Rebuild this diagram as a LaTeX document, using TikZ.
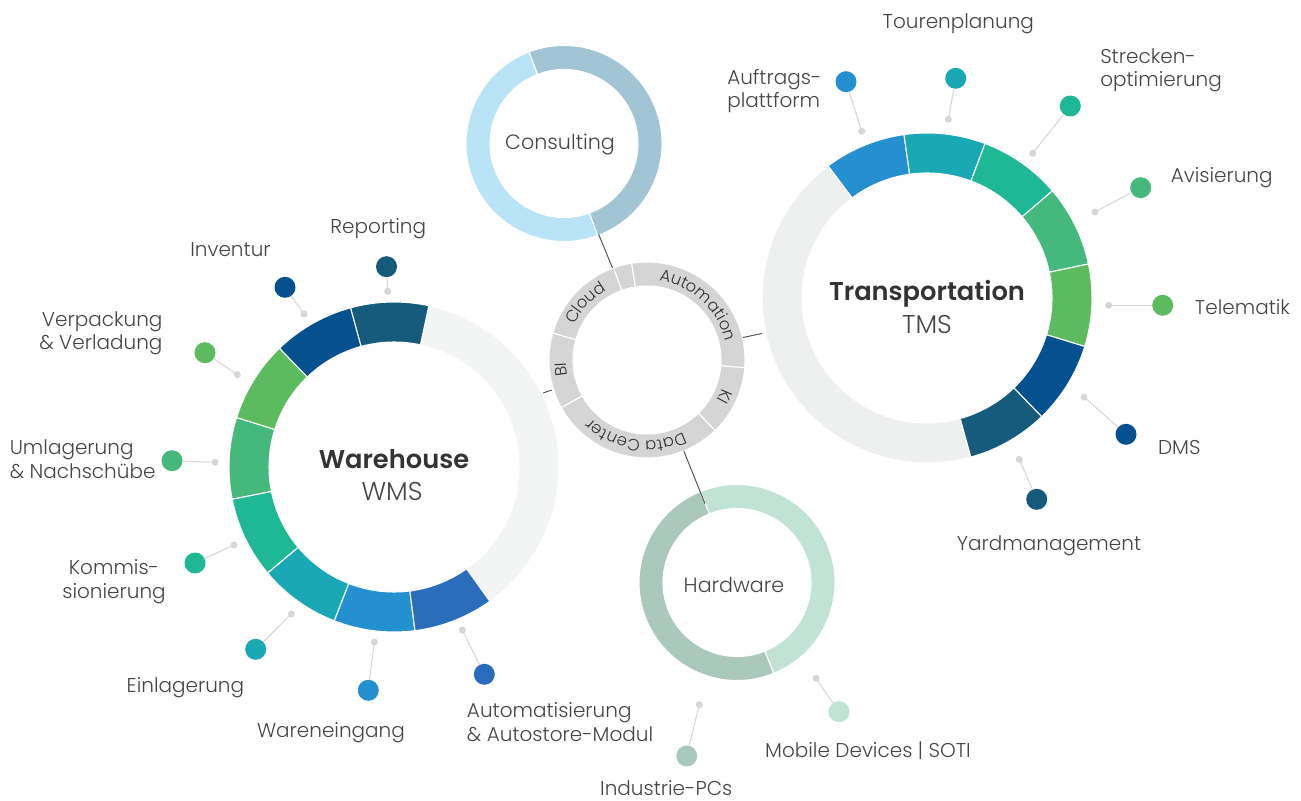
\documentclass[tikz,border=0pt]{standalone}
\usepackage{fontspec}
\setmainfont{Poppins Light}[BoldFont={Poppins SemiBold}]
\usetikzlibrary{decorations.text}
\definecolor{txt}{HTML}{464646}
\definecolor{txtdark}{HTML}{333333}
\definecolor{cBlue}{HTML}{2490CF}
\definecolor{cTeal}{HTML}{1AA9B4}
\definecolor{cSea}{HTML}{1FB894}
\definecolor{cMint}{HTML}{45B97C}
\definecolor{cGreen}{HTML}{5DBB5F}
\definecolor{cNavy}{HTML}{05508F}
\definecolor{cYard}{HTML}{165A7C}
\definecolor{cAuto}{HTML}{2A6EBB}
\definecolor{wmsgrey}{HTML}{F3F4F4}
\definecolor{tmsgrey}{HTML}{EEF0EF}
\definecolor{midgrey}{HTML}{D5D5D5}
\definecolor{consDark}{HTML}{A2C5D5}
\definecolor{consLight}{HTML}{B9E3F6}
\definecolor{hwLight}{HTML}{C1E3D6}
\definecolor{hwDark}{HTML}{ABC8BD}
\definecolor{leadgrey}{HTML}{D6D6D6}
\definecolor{conn}{HTML}{505050}
% ring segment: inner r, outer r, start angle, end angle, colour
\newcommand{\rseg}[5]{\fill[#5,draw=white,line width=0.8pt] (#3:#2) arc[start angle=#3,end angle=#4,radius=#2] -- (#4:#1) arc[start angle=#4,end angle=#3,radius=#1] -- cycle;}
\tikzset{
  lbl/.style={text=txt,font=\fontsize{15}{17.5}\selectfont,inner sep=0pt},
  ringname/.style={text=txt,font=\fontsize{15.5}{18}\selectfont,inner sep=0pt},
  ringtitle/.style={text=txtdark,font=\bfseries\fontsize{19.3}{21}\selectfont,inner sep=0pt},
  ringsub/.style={text=txt,font=\fontsize{19.3}{21}\selectfont,inner sep=0pt},
  dot/.style={circle,inner sep=0pt,minimum size=15.75pt},
  gdot/.style={circle,inner sep=0pt,minimum size=5.25pt,fill=leadgrey},
  leader/.style={draw=leadgrey,line width=0.75pt},
  linkline/.style={draw=conn,line width=0.7pt},
  arctext/.style={decorate,decoration={text along path,text align=center,text color=txtdark,text={|\fontsize{12.3}{14}\selectfont|#1}}}
}
\begin{document}
\begin{tikzpicture}[x=0.75pt,y=0.75pt]
\useasboundingbox (0,0) rectangle (1301,800);
\fill[white] (0,0) rectangle (1301,800);

% ---------- WMS ring ----------
\begin{scope}[shift={(394,333)}]
\rseg{125}{165}{-54.5}{77.8}{wmsgrey}
\rseg{125}{165}{77.8}{105.3}{cYard}
\rseg{125}{165}{105.3}{134}{cNavy}
\rseg{125}{165}{134}{162.6}{cGreen}
\rseg{125}{165}{162.6}{191.3}{cMint}
\rseg{125}{165}{191.3}{220}{cSea}
\rseg{125}{165}{220}{248.8}{cTeal}
\rseg{125}{165}{248.8}{277.3}{cBlue}
\rseg{125}{165}{277.3}{305.5}{cAuto}
\end{scope}
\node[ringtitle] (wmsT) at (394,341) {Warehouse};
\node[ringsub] (wmsS) at (392,309) {WMS};

% ---------- TMS ring ----------
\begin{scope}[shift={(927,502)}]
\rseg{125}{165}{126.8}{285.4}{tmsgrey}
\rseg{125}{165}{98}{126.8}{cBlue}
\rseg{125}{165}{69.4}{98}{cTeal}
\rseg{125}{165}{40.5}{69.4}{cSea}
\rseg{125}{165}{11.9}{40.5}{cMint}
\rseg{125}{165}{-17.1}{11.9}{cGreen}
\rseg{125}{165}{-46}{-17.1}{cNavy}
\rseg{125}{165}{-74.6}{-46}{cYard}
\end{scope}
\node[ringtitle] (tmsT) at (927,506) {Transportation};
\node[ringsub] (tmsS) at (927,476) {TMS};

% ---------- Consulting ring ----------
\begin{scope}[shift={(564,656.5)}]
\rseg{74}{98}{-70}{111}{consDark}
\rseg{74}{98}{111}{290}{consLight}
\end{scope}
\node[ringname] (consT) at (560,655) {Consulting};

% ---------- Hardware ring ----------
\begin{scope}[shift={(737,217.5)}]
\rseg{74}{98}{-68}{112}{hwLight}
\rseg{74}{98}{112}{292}{hwDark}
\end{scope}
\node[ringname] (hwT) at (734,215) {Hardware};

% ---------- central ring ----------
\begin{scope}[shift={(647,440)}]
\rseg{74}{98}{99}{110}{midgrey}
\rseg{74}{98}{-4.5}{99}{midgrey}
\rseg{74}{98}{-46}{-4.5}{midgrey}
\rseg{74}{98}{-151}{-46}{midgrey}
\rseg{74}{98}{164}{209}{midgrey}
\rseg{74}{98}{110}{164}{midgrey}
\path[arctext=Automation] (99:80.5) arc[start angle=99,end angle=-4.5,radius=80.5];
\path[arctext=KI] (-4.5:80.5) arc[start angle=-4.5,end angle=-46,radius=80.5];
\path[arctext=Data Center] (-46:80.5) arc[start angle=-46,end angle=-151,radius=80.5];
\path[arctext=BI] (209:80.5) arc[start angle=209,end angle=164,radius=80.5];
\path[arctext=Cloud] (164:80.5) arc[start angle=164,end angle=110,radius=80.5];
\end{scope}

% ---------- links between rings ----------
\coordinate (lConsA) at (598.5,566);
\coordinate (lConsB) at (612.5,532);
\coordinate (lTmsA) at (743,462.5);
\coordinate (lTmsB) at (762,466.5);
\coordinate (lWmsA) at (543,407);
\coordinate (lWmsB) at (552,410);
\coordinate (lHwA) at (683.7,349.2);
\coordinate (lHwB) at (705,296.3);
\draw[linkline] (lConsA) -- (lConsB);
\draw[linkline] (lTmsA) -- (lTmsB);
\draw[linkline] (lWmsA) -- (lWmsB);
\draw[linkline] (lHwA) -- (lHwB);

% ---------- WMS labels ----------
\node[lbl] (tRep) at (378.3,571.7) {Reporting};
\node[dot,fill=cYard] (dRep) at (386.5,533.3) {};
\node[gdot] (gRep) at (387.7,508.7) {};
\draw[leader] (gRep.center) -- (dRep);

\node[lbl] (tInv) at (230.5,550) {Inventur};
\node[dot,fill=cNavy] (dInv) at (285,512.7) {};
\node[gdot] (gInv) at (304,486) {};
\draw[leader] (gInv.center) -- (dInv);

\node[lbl,align=right,anchor=east] (tVer) at (162.7,466.7) {Verpackung\\\& Verladung};
\node[dot,fill=cGreen] (dVer) at (205,447.3) {};
\node[gdot] (gVer) at (237.3,425.3) {};
\draw[leader] (gVer.center) -- (dVer);

\node[lbl,align=left,anchor=west] (tUml) at (9.5,340.8) {Umlagerung\\\& Nachschübe};
\node[dot,fill=cMint] (dUml) at (172,339.3) {};
\node[gdot] (gUml) at (215,337.7) {};
\draw[leader] (gUml.center) -- (dUml);

\node[lbl,align=center] (tKom) at (114,218.3) {Kommis-\\sionierung};
\node[dot,fill=cSea] (dKom) at (195,237) {};
\node[gdot] (gKom) at (234,255) {};
\draw[leader] (gKom.center) -- (dKom);

\node[lbl] (tEin) at (185.4,112) {Einlagerung};
\node[dot,fill=cTeal] (dEin) at (255.7,150.7) {};
\node[gdot] (gEin) at (291.3,186) {};
\draw[leader] (gEin.center) -- (dEin);

\node[lbl] (tWar) at (331,67) {Wareneingang};
\node[dot,fill=cBlue] (dWar) at (368.3,109.7) {};
\node[gdot] (gWar) at (374.3,158) {};
\draw[leader] (gWar.center) -- (dWar);

\node[lbl,align=left,anchor=west] (tAut) at (466.7,78) {Automatisierung\\\& Autostore-Modul};
\node[dot,fill=cAuto] (dAut) at (484.3,125.7) {};
\node[gdot] (gAut) at (462.3,170) {};
\draw[leader] (gAut.center) -- (dAut);

% ---------- TMS labels ----------
\node[lbl,align=left,anchor=west] (tAuf) at (727,709) {Auftrags-\\plattform};
\node[dot,fill=cBlue] (dAuf) at (846,718.3) {};
\node[gdot] (gAuf) at (861.7,668.7) {};
\draw[leader] (gAuf.center) -- (dAuf);

\node[lbl] (tTou) at (958.3,776.7) {Tourenplanung};
\node[dot,fill=cTeal] (dTou) at (955.7,721.7) {};
\node[gdot] (gTou) at (948.3,680.7) {};
\draw[leader] (gTou.center) -- (dTou);

\node[lbl,align=left,anchor=west] (tStr) at (1100,729.5) {Strecken-\\optimierung};
\node[dot,fill=cSea] (dStr) at (1070.3,694) {};
\node[gdot] (gStr) at (1032.7,646.7) {};
\draw[leader] (gStr.center) -- (dStr);

\node[lbl] (tAvi) at (1221.7,622.7) {Avisierung};
\node[dot,fill=cMint] (dAvi) at (1140.7,612.3) {};
\node[gdot] (gAvi) at (1095,588) {};
\draw[leader] (gAvi.center) -- (dAvi);

\node[lbl] (tTel) at (1242.5,492.7) {Telematik};
\node[dot,fill=cGreen] (dTel) at (1162.7,494.7) {};
\node[gdot] (gTel) at (1108.7,494.7) {};
\draw[leader] (gTel.center) -- (dTel);

\node[lbl] (tDms) at (1179.3,352.7) {DMS};
\node[dot,fill=cNavy] (dDms) at (1126,365.7) {};
\node[gdot] (gDms) at (1084,403) {};
\draw[leader] (gDms.center) -- (dDms);

\node[lbl] (tYar) at (1049,254) {Yardmanagement};
\node[dot,fill=cYard] (dYar) at (1036.7,300.7) {};
\node[gdot] (gYar) at (1019.3,340.7) {};
\draw[leader] (gYar.center) -- (dYar);

% ---------- Hardware labels ----------
\node[lbl,anchor=base] (tInd) at (666.3,4.5) {Industrie-PCs};
\node[dot,fill=hwDark] (dInd) at (686.7,44) {};
\node[gdot] (gInd) at (699.3,95.3) {};
\draw[leader] (gInd.center) -- (dInd);

\node[lbl] (tMob) at (868,49.3) {Mobile Devices | SOTI};
\node[dot,fill=hwLight] (dMob) at (839,88.3) {};
\node[gdot] (gMob) at (816,121.7) {};
\draw[leader] (gMob.center) -- (dMob);
\end{tikzpicture}
\end{document}
